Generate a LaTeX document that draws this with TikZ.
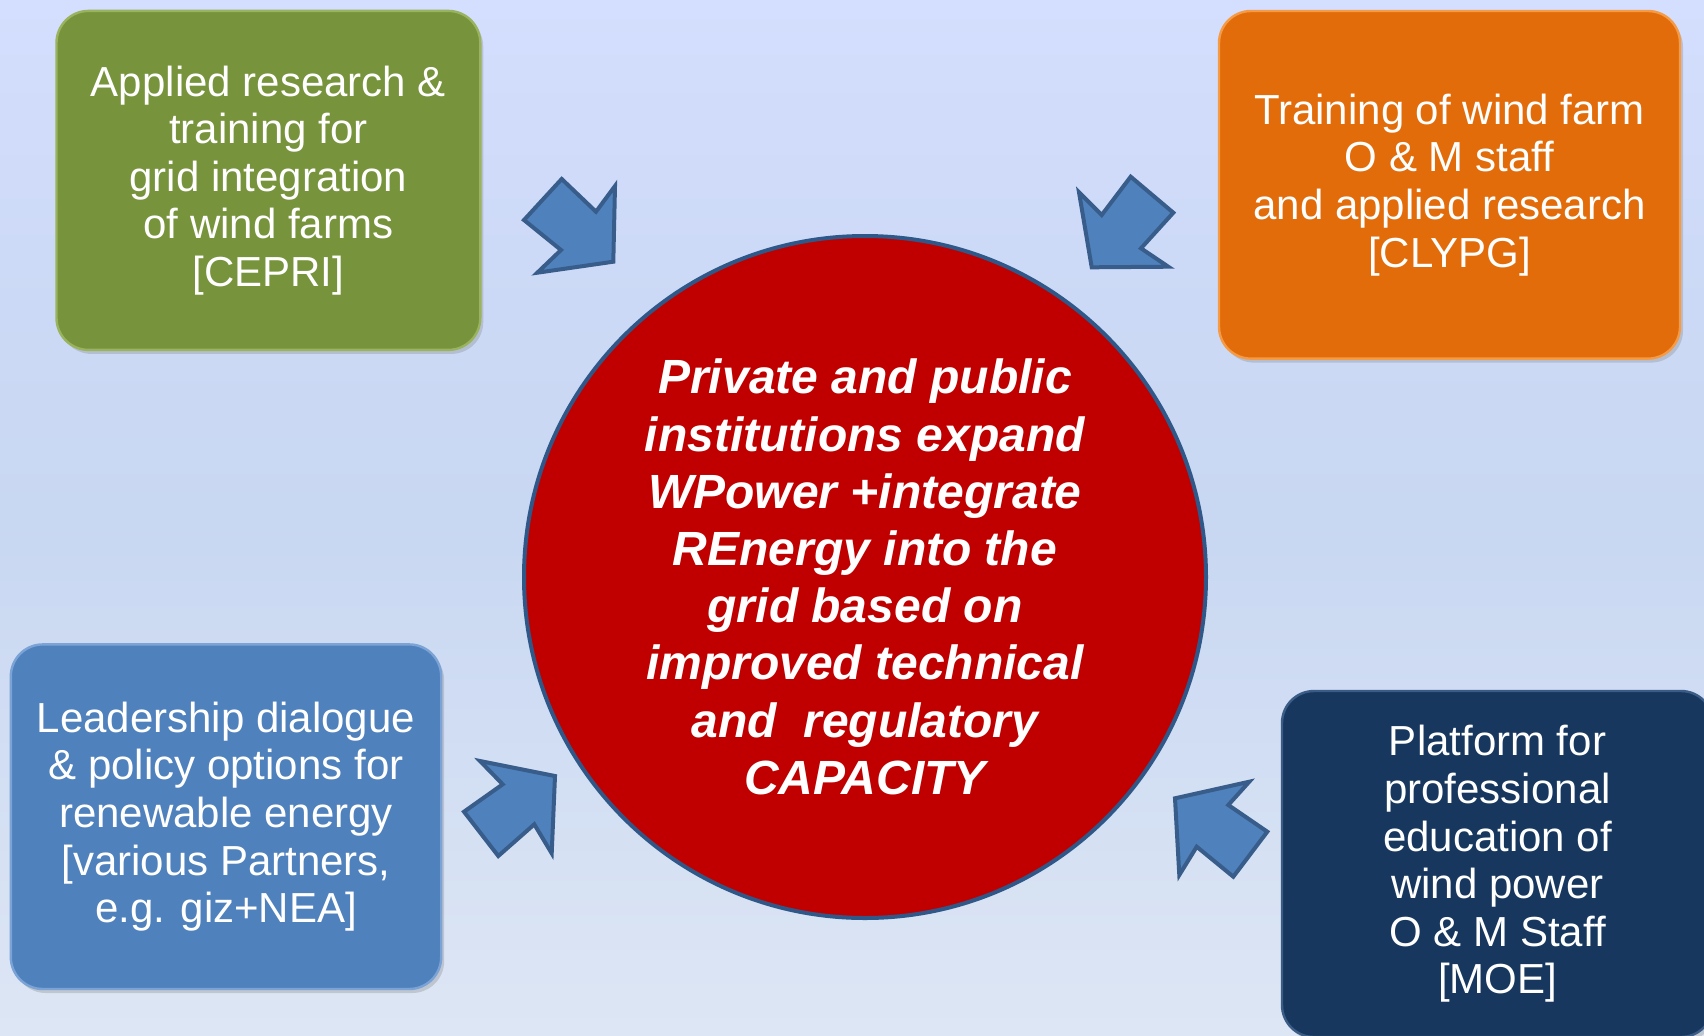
\documentclass[tikz,border=0pt]{standalone}
\usepackage{fontspec}
\setmainfont{Liberation Sans}
\usetikzlibrary{shadows}
\definecolor{bgtop}{HTML}{D4DEFE}
\definecolor{bgmid}{HTML}{C8D7F2}
\definecolor{bgbot}{HTML}{DDE6F4}
\definecolor{boxgreen}{HTML}{77933C}
\definecolor{boxgreenedge}{HTML}{9AB35E}
\definecolor{boxorange}{HTML}{E36C0A}
\definecolor{boxorangeedge}{HTML}{F59A45}
\definecolor{boxblue}{HTML}{4F81BD}
\definecolor{boxblueedge}{HTML}{7BA3D6}
\definecolor{boxnavy}{HTML}{17375E}
\definecolor{boxnavyedge}{HTML}{3A5C86}
\definecolor{hubred}{HTML}{C00000}
\definecolor{hubedge}{HTML}{2F5888}
\definecolor{arrfill}{HTML}{4F81BD}
\definecolor{arredge}{HTML}{385D8A}
\tikzset{
  infobox/.style={rounded corners=16pt, text=white, align=center, inner sep=0pt,
    font=\fontsize{21}{23.8}\selectfont, line width=1.2pt,
    drop shadow={shadow xshift=1.5pt, shadow yshift=-2pt, opacity=0.3}},
  hub/.style={circle, fill=hubred, draw=hubedge, line width=2pt, inner sep=0pt,
    minimum size=341pt, text=white, align=center,
    font=\fontsize{24}{28.6}\selectfont\bfseries\itshape},
  blockarrow/.style={fill=arrfill, draw=arredge, line width=2pt, line join=miter}
}
\begin{document}
\begin{tikzpicture}[x=0.5pt, y=-0.5pt]
\useasboundingbox (0,0) rectangle (1704,1035);
\shade[top color=bgtop, bottom color=bgmid, middle color=bgmid!60!bgtop] (0,0) rectangle (1704,520);
\shade[top color=bgmid, bottom color=bgbot] (0,519) rectangle (1704,1035);

\node[infobox, fill=boxgreen, draw=boxgreenedge, minimum width=211.9pt, minimum height=169.5pt]
  (green) at (268.4,180.4) {Applied research \&\\training for\\grid integration\\of wind farms\\{}[CEPRI]};
\node[infobox, fill=boxorange, draw=boxorangeedge, minimum width=230.5pt, minimum height=173.8pt]
  (orange) at (1449.5,184.8) {Training of wind farm\\O \& M staff\\and applied research\\{}[CLYPG]};
\node[infobox, fill=boxblue, draw=boxblueedge, minimum width=215.2pt, minimum height=172.3pt]
  (blue) at (226,816.7) {Leadership dialogue\\\& policy options for\\renewable energy\\{}[various Partners,\\e.g. giz+NEA]};
\node[infobox, fill=boxnavy, draw=boxnavyedge, minimum width=215.5pt, minimum height=173pt]
  (navy) at (1497.5,864) {Platform for\\professional\\education of\\wind power\\O \& M Staff\\{}[MOE]};

\node[hub] (hub) at (865,577) {Private and public\\institutions expand\\WPower +integrate\\REnergy into the\\grid based on\\improved technical\\and~~regulatory\\CAPACITY};

% block arrows
\draw[blockarrow] (561.7,179) -- (596,211.7) -- (615,186) -- (613.3,261.7) -- (537.3,272.7) -- (561,250) -- (524,220) -- cycle;
\draw[blockarrow] (1130.7,176.7) -- (1173.3,212.7) -- (1141,248.3) -- (1168.3,266.7) -- (1091.7,267.3) -- (1079,192.3) -- (1101.7,215) -- cycle;
\draw[blockarrow] (480,761) -- (555,776) -- (551.7,853.3) -- (534.3,824.3) -- (498.3,856) -- (464,811.7) -- (502.7,784.3) -- cycle;
\draw[blockarrow] (1249.3,781.7) -- (1175,798.3) -- (1179.3,875) -- (1196.7,846.7) -- (1233.3,876.7) -- (1267.3,831.7) -- (1228.3,805) -- cycle;
\end{tikzpicture}
\end{document}
